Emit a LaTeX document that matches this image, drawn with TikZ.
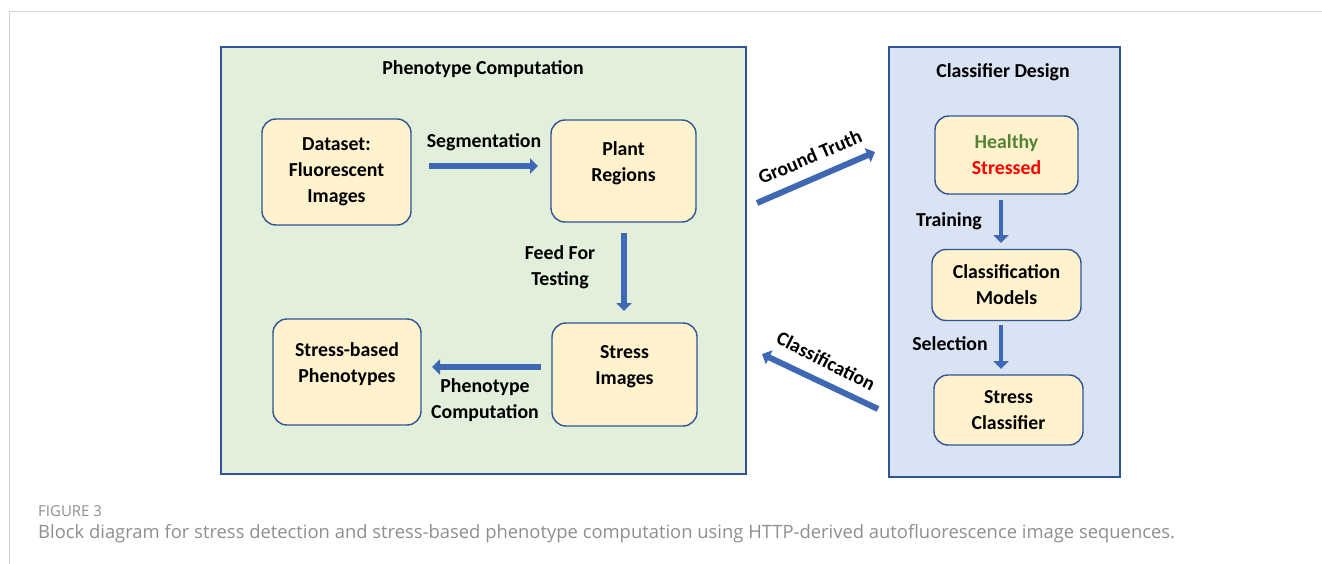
\documentclass[tikz,border=0pt]{standalone}
\usepackage{fontspec}
\setmainfont{Carlito}
\newfontfamily\capfont{Open Sans}
\usetikzlibrary{arrows.meta}

\definecolor{frameblue}{HTML}{2F5597}
\definecolor{arrowblue}{HTML}{3E68B4}
\definecolor{stagefill}{HTML}{FFF2CC}
\definecolor{phenofill}{HTML}{E2EFDA}
\definecolor{classfill}{HTML}{DAE3F3}
\definecolor{healthygreen}{HTML}{548235}
\definecolor{captiongray}{HTML}{8E8E8E}
\definecolor{rulegray}{HTML}{D4D4D4}

\tikzset{
  stage/.style={draw=frameblue, line width=1.4pt, fill=stagefill, rounded corners=14pt,
    font=\bfseries\fontsize{19.8}{26}\selectfont, align=center, inner sep=0pt},
  stagetext/.style={font=\bfseries\fontsize{19.8}{26}\selectfont, align=center, yshift=8pt},
  panel/.style={draw=frameblue, line width=1.6pt, inner sep=0pt},
  flow/.style={arrowblue, line width=5.5pt, -{Triangle[length=8pt,width=15pt]}},
  flowtext/.style={font=\bfseries\fontsize{19.8}{26}\selectfont, align=center},
}

\begin{document}
\begin{tikzpicture}[x=1pt,y=-1pt]
    \useasboundingbox (0,0) rectangle (1322,564);
    % page frame
    \coordinate (frame_top) at (1322,12);
    \coordinate (frame_corner) at (9,12);
    \coordinate (frame_bottom) at (9,564);
    \draw[rulegray, line width=1pt] (frame_top) -- (frame_corner) -- (frame_bottom);

    % the two panels
    \node[panel, fill=phenofill, minimum width=525pt, minimum height=427pt] (pheno) at (483.5,260.5) {};
    \node[panel, fill=classfill, minimum width=231pt, minimum height=430pt] (design) at (1004.5,262) {};
    \node[flowtext] (pheno_title) at (483,69) {Phenotype Computation};
    \node[flowtext] (design_title) at (1003,72) {Classifier Design};

    % phenotype computation
    \node[stage, minimum width=149pt, minimum height=106pt] (dataset) at (336.5,172) {Dataset:\\Fluorescent\\Images};
    \node[stage, minimum width=145pt, minimum height=102pt,
      label={[stagetext]center:Plant\\Regions}] (plant) at (623.5,171) {};
    \node[stage, minimum width=145pt, minimum height=103pt,
      label={[stagetext]center:Stress\\Images}] (stressimg) at (624.5,374.5) {};
    \node[stage, minimum width=148pt, minimum height=106pt,
      label={[stagetext]center:Stress-based\\Phenotypes}] (phenotypes) at (347,372) {};

    % classifier design
    \node[stage, minimum width=143pt, minimum height=78pt] (labels) at (1006.5,155) {\textcolor{healthygreen}{Healthy}\\\textcolor{red}{Stressed}};
    \node[stage, minimum width=149pt, minimum height=71pt] (models) at (1006.5,285) {Classification\\Models};
    \node[stage, minimum width=149pt, minimum height=70pt] (classifier) at (1008.5,410) {Stress\\Classifier};

    % arrow ends
    \coordinate (seg_a) at (429,166);
    \coordinate (seg_b) at (538,166);
    \coordinate (feed_a) at (624,233);
    \coordinate (feed_b) at (624,311);
    \coordinate (comp_a) at (541,367);
    \coordinate (comp_b) at (432,367);
    \coordinate (gt_a) at (757,203);
    \coordinate (gt_b) at (875,152);
    \coordinate (cls_a) at (878,409);
    \coordinate (cls_b) at (762,354);
    \coordinate (train_a) at (1001,200);
    \coordinate (train_b) at (1001,243);
    \coordinate (sel_a) at (1001,325);
    \coordinate (sel_b) at (1001,369);

    \draw[flow] (seg_a) -- (seg_b);
    \draw[flow] (feed_a) -- (feed_b);
    \draw[flow] (comp_a) -- (comp_b);
    \draw[flow, line width=6pt] (gt_a) -- (gt_b);
    \draw[flow, line width=6pt] (cls_a) -- (cls_b);
    \draw[flow, line width=4.5pt] (train_a) -- (train_b);
    \draw[flow, line width=4.5pt] (sel_a) -- (sel_b);

    \node[flowtext] (seg_text) at (484,142) {Segmentation};
    \node[flowtext] (feed_text) at (560,267) {Feed For\\Testing};
    \node[flowtext] (comp_text) at (485,400) {Phenotype\\Computation};
    \node[flowtext, rotate=23] (gt_text) at (810,157) {Ground Truth};
    \node[flowtext, rotate=-27] (cls_text) at (826,361) {Classification};
    \node[flowtext] (train_text) at (949,221) {Training};
    \node[flowtext] (sel_text) at (950,344) {Selection};

    % caption
    \node[anchor=west, inner sep=0pt, text=captiongray, font=\capfont\fontsize{15}{16}\selectfont] (fig_no) at (38,511) {FIGURE 3};
    \node[anchor=west, inner sep=0pt, text=captiongray, font=\capfont\fontsize{18.4}{20}\selectfont] (caption) at (38,534) {Block diagram for stress detection and stress-based phenotype computation using HTTP-derived autofluorescence image sequences.};
\end{tikzpicture}
\end{document}
